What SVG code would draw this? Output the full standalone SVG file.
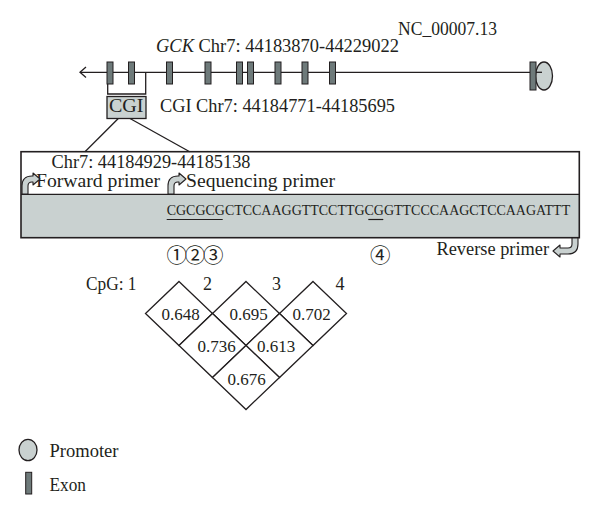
<svg xmlns="http://www.w3.org/2000/svg" width="600" height="518" viewBox="0 0 600 518">
  <style>
    .t { font-family: "Liberation Serif", "Times New Roman", serif; font-size: 18px; fill: #231f20; }
    .num { font-family: "Liberation Serif", "Times New Roman", serif; font-size: 17px; fill: #231f20; text-anchor: middle; }
    .seq { font-family: "Liberation Serif", "Times New Roman", serif; font-size: 14.5px; fill: #231f20; }
    .circ { font-family: "Noto Sans CJK JP", "DejaVu Sans", sans-serif; font-size: 20.5px; fill: #231f20; }
    .ln { stroke: #231f20; stroke-width: 1.3; fill: none; }
    .exon { fill: #6e7a7a; stroke: #231f20; stroke-width: 1; }
    .light { fill: #c9d1d0; stroke: #231f20; stroke-width: 1.3; }
    .dia { fill: #ffffff; stroke: #231f20; stroke-width: 1.3; }
    .parrow { fill: #c9d1d0; stroke: #231f20; stroke-width: 1.1; stroke-linejoin: round; }
  </style>
  <defs>
    <path id="fwdArrow" d="M22,194 L22,186 Q22,176 32,176 L33,176 L33,173 L40,179 L33,185 L33,182 L32,182 Q28,182 28,186 L28,194 Z"/>
  </defs>

  <!-- Gene track -->
  <g id="gene-track">
    <text class="t" x="156" y="52" textLength="243" lengthAdjust="spacingAndGlyphs"><tspan font-style="italic">GCK</tspan> Chr7: 44183870-44229022</text>
    <text class="t" x="398" y="35" textLength="99" lengthAdjust="spacingAndGlyphs">NC_00007.13</text>
    <line class="ln" x1="80" y1="72.3" x2="542" y2="72.3"/>
    <polyline class="ln" points="86,67 80,72.3 86,77.5"/>
    <rect class="exon" x="107" y="62" width="6" height="22"/>
    <rect class="exon" x="128.5" y="62" width="6" height="22"/>
    <rect class="exon" x="166.5" y="62" width="6" height="22"/>
    <rect class="exon" x="205" y="62" width="6" height="22"/>
    <rect class="exon" x="236.5" y="62" width="6" height="22"/>
    <rect class="exon" x="247.5" y="62" width="6" height="22"/>
    <rect class="exon" x="275" y="62" width="6" height="22"/>
    <rect class="exon" x="302" y="62" width="6" height="22"/>
    <rect class="exon" x="329.5" y="62" width="6" height="22"/>
    <ellipse class="light" cx="544" cy="76" rx="8.5" ry="14"/>
    <rect class="exon" x="530" y="62" width="6" height="28"/>
    <line class="ln" x1="536" y1="72.3" x2="542" y2="72.3"/>
  </g>

  <!-- CGI -->
  <g id="cgi">
    <rect class="light" x="107" y="96.5" width="39" height="22"/>
    <text class="t" x="109" y="112" textLength="34.5" lengthAdjust="spacingAndGlyphs">CGI</text>
    <text class="t" x="160" y="112" textLength="235" lengthAdjust="spacingAndGlyphs">CGI Chr7: 44184771-44185695</text>
  </g>

  <!-- Amplicon region -->
  <g id="amplicon">
    <rect x="21" y="194.3" width="558.3" height="43.4" fill="#c9d1d0"/>
    <rect x="21" y="151.7" width="558.3" height="86" fill="none" stroke="#231f20" stroke-width="1.6"/>
    <line x1="21" y1="194.3" x2="579.3" y2="194.3" stroke="#231f20" stroke-width="1.3"/>
    <text class="t" x="51.5" y="168.3" textLength="199" lengthAdjust="spacingAndGlyphs">Chr7: 44184929-44185138</text>
    <text class="t" x="36" y="187" textLength="124" lengthAdjust="spacingAndGlyphs">Forward primer</text>
    <text class="t" x="186" y="187" textLength="149" lengthAdjust="spacingAndGlyphs">Sequencing primer</text>
    <text class="seq" x="166.7" y="215" textLength="403.5" lengthAdjust="spacingAndGlyphs">CGCGCGCTCCAAGGTTCCTTGCGGTTCCCAAGCTCCAAGATTT</text>
    <line x1="166.7" y1="219.5" x2="222.7" y2="219.5" stroke="#231f20" stroke-width="1.2"/>
    <line x1="368.3" y1="219.5" x2="383.3" y2="219.5" stroke="#231f20" stroke-width="1.2"/>
    <text class="t" x="436.5" y="255" textLength="112.5" lengthAdjust="spacingAndGlyphs">Reverse primer</text>
  </g>

  <!-- Primer arrows -->
  <g id="primer-arrows">
    <use href="#fwdArrow" class="parrow"/>
    <use href="#fwdArrow" class="parrow" transform="translate(146,0)"/>
    <path class="parrow" d="M578,238 L578,244 Q578,254 568,254 L560,254 L560,257 L553,251 L560,245 L560,248 L568,248 Q572,248 572,244 L572,238 Z"/>
  </g>

  <!-- CpG site markers -->
  <g id="cpg-markers">
    <text class="circ" x="166.5" y="262.5" textLength="57" lengthAdjust="spacing">①②③</text>
    <text class="circ" x="370" y="262.5">④</text>
  </g>

  <!-- Connectors -->
  <g id="connectors">
    <polyline class="ln" points="107.7,84 107.7,94 145.7,94 145.7,72.3"/>
    <line class="ln" x1="118.3" y1="118.5" x2="85" y2="151.7"/>
    <line class="ln" x1="130" y1="118.5" x2="189.7" y2="151.7"/>
  </g>

  <!-- LD matrix -->
  <g id="ld-matrix">
    <text class="t" x="86" y="290" textLength="50.5" lengthAdjust="spacingAndGlyphs">CpG: 1</text>
    <text class="t" x="207.5" y="290" text-anchor="middle">2</text>
    <text class="t" x="276.5" y="290" text-anchor="middle">3</text>
    <text class="t" x="340" y="290" text-anchor="middle">4</text>
    <g id="d12"><polygon class="dia" points="179,281.5 212.5,313.5 179,345.5 145.5,313.5"/><text class="num" x="180.5" y="319.5">0.648</text></g>
    <g id="d23"><polygon class="dia" points="246,281.5 279.5,313.5 246,345.5 212.5,313.5"/><text class="num" x="248.5" y="319.5">0.695</text></g>
    <g id="d34"><polygon class="dia" points="313,281.5 346.5,313.5 313,345.5 279.5,313.5"/><text class="num" x="311.5" y="319.5">0.702</text></g>
    <g id="d13"><polygon class="dia" points="212.5,313.5 246,345.5 212.5,377.5 179,345.5"/><text class="num" x="216.5" y="351.5">0.736</text></g>
    <g id="d24"><polygon class="dia" points="279.5,313.5 313,345.5 279.5,377.5 246,345.5"/><text class="num" x="276" y="351.5">0.613</text></g>
    <g id="d14"><polygon class="dia" points="246,345.5 279.5,377.5 246,409.5 212.5,377.5"/><text class="num" x="246.5" y="385">0.676</text></g>
  </g>

  <!-- Legend -->
  <g id="legend">
    <ellipse class="light" cx="28" cy="450" rx="9" ry="10.7"/>
    <text class="t" x="49.5" y="457" textLength="69" lengthAdjust="spacingAndGlyphs">Promoter</text>
    <rect class="exon" x="25.7" y="472.3" width="6" height="21.7"/>
    <text class="t" x="49.5" y="491" textLength="36.5" lengthAdjust="spacingAndGlyphs">Exon</text>
  </g>
</svg>
